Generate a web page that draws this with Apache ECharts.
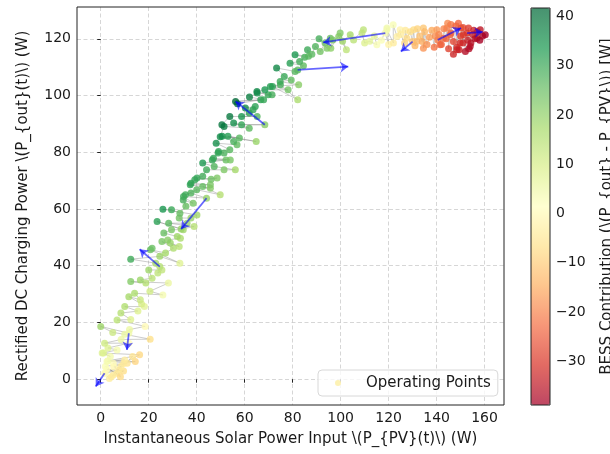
<!DOCTYPE html>
<html>
<head>
<meta charset="utf-8">
<script src="https://cdn.jsdelivr.net/npm/echarts@6/dist/echarts.min.js"></script>
<style>html,body{margin:0;padding:0;background:#fff}#c{width:610px;height:454px}</style>
</head>
<body>
<div id="c"></div>
<script>
// Instantaneous solar power input P_PV (W), in time order
const pvPower = [
 1.6,3.6,6.8,2.5,9.5,4.4,8.4,1.9,7.5,5.4,11.0,1.9,8.2,5.2,14.4,2.6,10.0,3.0,13.3,5.2,9.5,16.2,1.2,4.0,0.6,6.8,3.0,11.7,1.6,8.5,20.6,10.0,5.0,0.0,11.7,12.0,18.5,6.8,
 12.5,8.4,15.5,10.0,18.2,17.0,11.7,16.5,14.1,25.9,20.5,28.2,12.5,18.8,16.5,21.4,20.0,25.5,23.8,24.6,22.9,12.5,
 24.6,33.0,20.7,21.4,27.0,30.3,25.5,32.7,29.0,27.9,33.2,31.9,26.3,29.5,34.4,23.5,33.5,38.9,28.3,36.0,32.7,37.6,40.1,25.9,29.5,33.0,35.5,
 34.4,38.5,34.5,44.1,37.6,35.3,40.0,49.8,42.5,45.7,37.3,45.7,37.6,39.2,48.5,46.0,40.1,42.5,44.1,51.4,56.1,47.3,42.5,52.2,46.5,54.0,47.0,48.9,51.4,49.1,53.8,
 48.1,56.8,55.4,50.6,64.8,53.0,57.8,49.8,51.4,61.9,55.4,58.7,68.4,50.5,53.8,65.2,58.7,61.9,60.3,64.4,63.5,57.0,66.7,56.2,67.9,62.0,
 65.2,71.4,69.8,65.1,68.4,78.1,71.6,82.1,74.9,70.7,82.5,74.8,79.4,76.5,73.3,81.0,82.1,84.5,78.9,82.9,85.0,81.0,86.6,
 86.2,88.0,89.5,91.5,93.5,91.0,94.3,95.7,96.7,95.9,99.8,102.4,99.2,100.8,104.0,105.4,109.5,108.9,110.0,112.1,115.1,114.0,117.0,119.3,118.6,120.0,
 119.3,122.0,121.9,123.5,124.8,125.0,126.7,127.0,127.6,129.0,
 130.0,130.4,131.0,131.8,132.0,133.0,134.0,134.5,134.5,135.0,
 136.0,137.0,138.0,139.0,139.5,140.1,140.5,141.5,141.0,142.0,
 142.9,143.0,144.0,144.3,144.6,145.0,145.7,146.0,146.0,147.0,
 147.0,148.0,148.5,148.5,149.1,149.4,149.8,150.0,150.2,151.0,
 151.0,151.2,152.0,152.7,153.0,153.3,153.5,154.0,154.3,155.0,
 155.5,156.0,156.8,157.0,158.0,158.2,159.2,160.3
];
// Rectified DC charging power P_out (W), in time order
const dcPower = [
 2.1,0.2,2.1,3.5,2.9,0.9,4.5,2.1,3.2,4.4,5.6,4.5,0.9,5.6,6.2,6.2,6.8,6.5,8.0,1.5,5.5,8.6,9.2,8.0,9.2,10.3,11.0,12.7,12.7,14.0,14.1,15.8,16.5,18.6,16.2,17.5,18.6,20.9,
 21.0,23.3,24.0,25.6,25.6,26.5,29.1,28.0,30.3,29.7,31.0,33.9,34.4,33.9,35.0,35.6,38.5,38.5,37.4,39.7,40.9,42.3,
 43.3,40.9,45.6,46.2,44.5,46.2,48.5,46.8,48.0,49.1,49.7,50.3,51.5,52.7,52.7,55.6,52.9,53.8,55.0,55.0,56.8,56.8,57.9,59.9,59.7,58.5,61.0,
 63.2,62.0,64.4,63.8,65.6,65.0,66.8,65.0,67.9,67.3,68.5,68.5,69.1,70.3,70.9,70.5,70.9,71.5,73.8,73.8,73.8,75.0,76.2,77.3,77.3,77.3,77.9,79.7,79.7,80.3,80.9,
 83.2,82.6,83.8,85.6,83.8,85.6,85.0,85.5,89.1,88.5,90.3,89.7,89.7,89.7,92.6,92.6,92.6,93.8,95.6,96.1,95.0,97.1,98.5,97.9,98.5,99.5,
 100.9,100.3,100.3,101.4,102.0,102.0,103.2,98.5,103.8,103.2,103.8,104.9,105.5,106.7,109.7,108.5,109.0,110.5,111.4,112.0,113.5,114.4,113.8,
 116.1,114.5,117.3,115.5,118.5,120.0,116.7,120.2,119.6,116.7,122.0,116.1,120.8,119.1,121.4,119.6,123.2,122.0,118.5,119.1,117.9,121.0,119.5,123.8,122.0,118.0,
 123.2,118.5,124.9,120.8,123.2,121.5,118.5,123.0,120.2,122.5,
 119.0,123.2,117.5,119.1,123.5,121.0,119.0,123.8,116.7,122.5,
 118.0,120.5,123.0,117.0,121.0,123.2,119.6,117.9,121.5,118.0,
 120.2,123.5,120.0,123.8,125.5,116.5,121.4,122.0,125.0,119.0,
 114.5,124.5,117.0,116.1,125.5,116.1,118.5,121.0,123.8,118.5,
 124.0,121.4,115.5,122.0,119.5,123.8,116.5,117.3,118.5,121.5,
 123.0,120.0,120.2,122.5,119.5,123.2,121.0,121.4
];
// Quiver arrows (start -> end)
const arrowFromX = [1.6, 11.7, 24.6, 44.1, 68.4, 82.1, 118.6, 130.0, 140.5, 152.7];
const arrowFromY = [2.1, 16.2, 39.7, 63.8, 89.7, 109.0, 122.0, 119.0, 119.6, 122.0];
const arrowToX   = [-2.1, 10.9, 16.2, 33.5, 56.2, 103.2, 92.7, 125.1, 150.2, 159.2];
const arrowToY   = [-2.6, 10.3, 45.8, 52.9, 97.9, 110.2, 118.7, 115.5, 123.8, 122.4];

const xTicks = [0, 20, 40, 60, 80, 100, 120, 140, 160];
const yTicks = [0, 20, 40, 60, 80, 100, 120];
const cbTicks = [-30, -20, -10, 0, 10, 20, 30, 40];

const RdYlGn = ['#a50026','#d73027','#f46d43','#fdae61','#fee08b','#ffffbf','#d9ef8b','#a6d96a','#66bd63','#1a9850','#006837'];
const BAR_ALPHA = 0.72;
const PT_ALPHA = 0.8;
function blend(hex){
  const r=parseInt(hex.slice(1,3),16),g=parseInt(hex.slice(3,5),16),b=parseInt(hex.slice(5,7),16);
  const f=v=>Math.round(v*BAR_ALPHA+255*(1-BAR_ALPHA));
  return 'rgb('+f(r)+','+f(g)+','+f(b)+')';
}

const n = Math.min(pvPower.length, dcPower.length);
const pts = [];
for (let i = 0; i < n; i++) pts.push([pvPower[i], dcPower[i], dcPower[i] - pvPower[i]]);
const cVals = pts.map(p=>p[2]);
const cMin = Math.min.apply(null,cVals), cMax = Math.max.apply(null,cVals);
const arrows = arrowFromX.map((x,i)=>({coords:[[x,arrowFromY[i]],[arrowToX[i],arrowToY[i]]]}));

const FONT = 'DejaVu Sans';
const TXT = '#1a1a1a';
const NAME_FS = 15;
const TICK_FS = 14;
const minus = v => String(v).replace('-', '\u2212');
// legend marker: small dot with empty space on its right (icon box 35.5 x 6)
const LEGEND_ICON = 'path://M0,3L0.01,3L0,3.01Z M9.5,3A3,3 0 1,1 15.5,3A3,3 0 1,1 9.5,3Z M35.5,3L35.49,3L35.5,3.01Z';

const chart = echarts.init(document.getElementById('c'), null, {renderer:'canvas'});
chart.setOption({
  animation:false,
  textStyle:{fontFamily:FONT},
  grid:[
    {left:77, top:7, width:427, height:398, show:true, borderColor:'#222', borderWidth:1, backgroundColor:'transparent', z:10, outerBoundsMode:'none', containLabel:false},
    {left:531, top:8, width:19, height:397, show:true, borderColor:'#222', borderWidth:1, backgroundColor:'transparent', z:10, outerBoundsMode:'none', containLabel:false}
  ],
  xAxis:[
    {type:'value', gridIndex:0, min:-9.9, max:168.1,
     name:'Instantaneous Solar Power Input \\(P_{PV}(t)\\) (W)', nameLocation:'middle', nameGap:27,
     nameTextStyle:{fontFamily:FONT, fontSize:NAME_FS, color:TXT},
     axisLine:{show:false},
     axisTick:{show:true, length:3.5, lineStyle:{color:'#222'}, customValues:xTicks},
     axisLabel:{fontFamily:FONT, fontSize:TICK_FS, color:TXT, margin:6, customValues:xTicks, formatter:minus},
     splitLine:{show:true, lineStyle:{type:[4,2.5], color:'#cccccc', width:0.8}}},
    {type:'value', gridIndex:1, min:0, max:1, show:false}
  ],
  yAxis:[
    {type:'value', gridIndex:0, min:-9.1, max:131.2,
     name:'Rectified DC Charging Power \\(P_{out}(t)\\) (W)', nameLocation:'middle', nameGap:46,
     nameTextStyle:{fontFamily:FONT, fontSize:NAME_FS, color:TXT},
     axisLine:{show:false},
     axisTick:{show:true, length:3.5, lineStyle:{color:'#222'}, customValues:yTicks},
     axisLabel:{fontFamily:FONT, fontSize:TICK_FS, color:TXT, margin:6, customValues:yTicks, formatter:minus},
     splitLine:{show:true, lineStyle:{type:[4,2.5], color:'#cccccc', width:0.8}}},
    {type:'value', gridIndex:1, position:'right', min:cMin, max:cMax,
     name:'BESS Contribution (\\(P_{out} - P_{PV}\\)) [W]', nameLocation:'middle', nameGap:50, nameRotate:90,
     nameTextStyle:{fontFamily:FONT, fontSize:NAME_FS, color:TXT},
     axisLine:{show:false},
     axisTick:{show:true, length:3.5, lineStyle:{color:'#222'}, customValues:cbTicks},
     axisLabel:{fontFamily:FONT, fontSize:TICK_FS, color:TXT, margin:6, customValues:cbTicks, formatter:minus},
     splitLine:{show:false}}
  ],
  visualMap:{
    type:'continuous', seriesIndex:1, dimension:2, min:cMin, max:cMax,
    calculable:false, show:true, left:531, top:8, itemWidth:19, itemHeight:397, padding:0,
    text:null, hoverLink:false, z:4,
    inRange:{color:RdYlGn},
    controller:{inRange:{color:RdYlGn.map(blend)}}
  },
  legend:{
    show:true, left:318, top:370, orient:'horizontal',
    padding:[5.5,7,5.5,7.5], itemWidth:35.5, itemHeight:6, symbolKeepAspect:false,
    backgroundColor:'rgba(255,255,255,0.8)', borderColor:'#d8d8d8', borderWidth:1, borderRadius:4,
    textStyle:{fontFamily:FONT, fontSize:NAME_FS, color:TXT},
    data:[{name:'Operating Points', icon:LEGEND_ICON, itemStyle:{color:'#fdf0a8', opacity:0.85}}]
  },
  series:[
    {type:'line', xAxisIndex:0, yAxisIndex:0, data:pts.map(p=>[p[0],p[1]]), showSymbol:false, symbol:'none',
     lineStyle:{color:'#7a7a7a', width:0.7, opacity:0.55}, z:1, silent:true},
    {name:'Operating Points', type:'scatter', xAxisIndex:0, yAxisIndex:0, data:pts, symbolSize:7,
     itemStyle:{opacity:PT_ALPHA}, z:2},
    {type:'lines', coordinateSystem:'cartesian2d', xAxisIndex:0, yAxisIndex:0, data:arrows,
     symbol:['none','arrow'], symbolSize:[0,8],
     lineStyle:{color:'#0000ff', opacity:0.6, width:1.8, curveness:0}, z:3, silent:true}
  ]
});
</script>
</body>
</html>
